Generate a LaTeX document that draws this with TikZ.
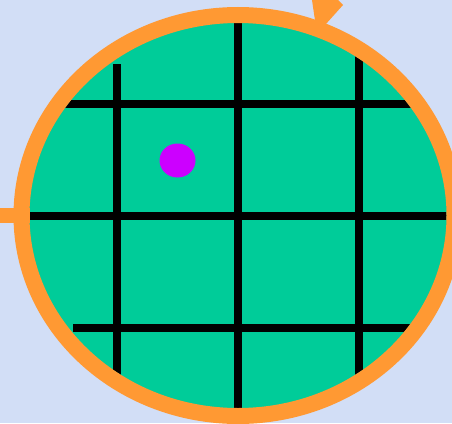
\documentclass[tikz,border=0pt]{standalone}
\usepackage{xcolor}
\usepackage{tikz}
\usetikzlibrary{calc}
\definecolor{bgblue}{RGB}{210,222,246}
\definecolor{padgreen}{RGB}{0,204,153}
\definecolor{rimorange}{RGB}{255,153,51}
\definecolor{dotmagenta}{RGB}{204,0,255}

\begin{document}
\begin{tikzpicture}[x=1pt,y=-1pt]
		\fill[bgblue] (0,0) rectangle (452,423);
		\useasboundingbox (0,0) rectangle (452,423);
		\clip (0,0) rectangle (452,423);
		\coordinate (O) at (238,215.5);
		\fill[padgreen] (O) ellipse [x radius=216.5, y radius=200.5];
		\begin{scope}
			\clip (O) ellipse [x radius=208.5, y radius=192.5];
			\foreach \gx/\ya/\yb in {117/64/390, 238/0/423, 359/0/390}
				\draw[line width=8pt] (\gx,\ya) -- (\gx,\yb);
			\foreach \gy/\xa/\xb in {104/40/452, 216/0/452, 328/73/452}
				\draw[line width=8pt] (\xa,\gy) -- (\xb,\gy);
		\end{scope}
		\fill[dotmagenta] (177.5,160.5) ellipse [x radius=18, y radius=17];
		\draw[rimorange, line width=15pt] (0,215.5) -- (30,215.5);
		\draw[rimorange, line width=16pt] (O) ellipse [x radius=216.5, y radius=200.5];
		\fill[rimorange] (307.5,-30.5) -- (343,5) -- (317,34) -- cycle;
	\end{tikzpicture}
\end{document}
